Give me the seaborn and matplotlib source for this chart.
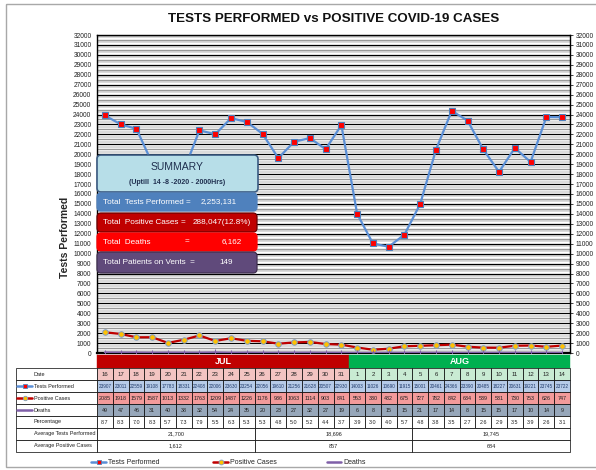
import numpy as np
import pandas as pd
import seaborn as sns
import matplotlib
matplotlib.use("Agg")
import matplotlib.pyplot as plt
from matplotlib import transforms
from matplotlib.patches import Rectangle, FancyBboxPatch
from matplotlib.lines import Line2D

# ---------------- data ----------------
dates = [16, 17, 18, 19, 20, 21, 22, 23, 24, 25, 26, 27, 28, 29, 30, 31,
         1, 2, 3, 4, 5, 6, 7, 8, 9, 10, 11, 12, 13, 14]
months = ["JUL", "AUG"]
month_days = [16, 14]
tests = [23907, 23011, 22559, 19108, 17783, 18331, 22408, 22006, 23630, 23254,
         22056, 19610, 21256, 21628, 20507, 22930, 14003, 11026, 10690, 11915,
         15001, 20461, 24366, 23390, 20485, 18227, 20631, 19221, 23745, 23722]
positive = [2085, 1918, 1579, 1587, 1013, 1332, 1763, 1209, 1487, 1226,
            1176, 936, 1063, 1114, 903, 841, 553, 330, 432, 675,
            727, 782, 842, 634, 539, 531, 730, 753, 626, 747]
deaths = [49, 47, 46, 31, 40, 38, 32, 54, 24, 35, 20, 23, 27, 32, 27, 19,
          6, 8, 15, 15, 21, 17, 14, 8, 15, 15, 17, 10, 14, 9]
percentage = [8.7, 8.3, 7.0, 8.3, 5.7, 7.3, 7.9, 5.5, 6.3, 5.3, 5.3, 4.8, 5.0, 5.2, 4.4, 3.7,
              3.9, 3.0, 4.0, 5.7, 4.8, 3.8, 3.5, 2.7, 2.6, 2.9, 3.5, 3.9, 2.6, 3.1]
avg_group_sizes = [10, 10, 10]
avg_tests = ["21,700", "18,696", "19,745"]
avg_positive = ["1,612", "857", "684"]
row_labels = ["Date", "Tests Performed", "Positive Cases", "Deaths", "Percentage",
              "Average Tests Performed", "Average Positive Cases"]
summary_title = ["SUMMARY", "(Uptill  14 -8 -2020 - 2000Hrs)"]
summary_labels = ["Total  Tests Performed =", "Total  Positive Cases", "Total  Deaths",
                  "Total Patients on Vents  ="]
summary_values = ["2,253,131", "288,047(12.8%)", "6,162", "149"]
y_ticks = list(range(0, 33000, 1000))

# ---------------- style ----------------
sns.set_theme(style="white")
plt.rcParams["font.family"] = ["Liberation Sans", "DejaVu Sans"]

W, H = 596, 470
fig = plt.figure(figsize=(W / 100, H / 100), dpi=100)
fig.patch.set_facecolor("white")

L, R, T, B = 97, 570, 35, 353
ax = fig.add_axes([L / W, 1 - B / H, (R - L) / W, (B - T) / H])

df = pd.DataFrame({"idx": np.arange(len(dates)), "tests": tests,
                   "positive": positive, "deaths": deaths})

C_TEST = "#5b8fd6"
C_POS = "#c00000"
C_DEATH = "#7f5fa8"

# background stripes / grid
for base in range(0, 32000, 1000):
    ax.axhline(base + 250, color="#d4d4d4", lw=1.2, zorder=0)
    ax.axhline(base + 500, color="#9a9a9a", lw=1.0, zorder=0)
    ax.axhline(base + 750, color="#d4d4d4", lw=1.2, zorder=0)
for v in y_ticks[1:]:
    ax.axhline(v, color="black", lw=0.9, zorder=1)

sns.lineplot(data=df, x="idx", y="tests", ax=ax, color=C_TEST, lw=1.6,
             marker="s", markersize=4.2, markerfacecolor="red",
             markeredgecolor="#4f81bd", markeredgewidth=0.8, zorder=5)
sns.lineplot(data=df, x="idx", y="positive", ax=ax, color=C_POS, lw=1.6,
             marker="o", markersize=4, markerfacecolor="#ffc000",
             markeredgecolor="#7f9fc8", markeredgewidth=0.7, zorder=5)
sns.lineplot(data=df, x="idx", y="deaths", ax=ax, color=C_DEATH, lw=1.6,
             marker="|", markersize=4, markeredgecolor=C_DEATH, zorder=6)

ax.set_xlim(-0.5, len(dates) - 0.5)
ax.set_ylim(0, 32000)
ax.set_xticks([])
ax.set_yticks(y_ticks)
ax.set_yticklabels([str(v) for v in y_ticks])
ax.set_xlabel("")
ax.set_ylabel("")
ax.tick_params(axis="y", labelsize=4.8, left=False, right=True, labelright=True,
               length=2, width=0.6, pad=2, colors="#222222")
for s in ax.spines.values():
    s.set_color("black")
    s.set_linewidth(1.0)
ax.spines["bottom"].set_linewidth(1.6)

# ---------------- table (under plot, in data x coords) ----------------
trans = transforms.blended_transform_factory(ax.transData, ax.transAxes)
def ya(py):
    return (B - py) / (B - T)

rows_px = [(355, 368), (368, 380), (380, 392), (392, 404), (404, 416),
           (416, 428), (428, 440), (440, 452)]

def cell(x0, x1, r, fc, txt, fs=4.2, color="#222222", weight="normal", ec="black", lw=0.5):
    y0, y1 = rows_px[r]
    ax.add_patch(Rectangle((x0, ya(y1)), x1 - x0, ya(y0) - ya(y1), transform=trans,
                           clip_on=False, fc=fc, ec=ec, lw=lw, zorder=3))
    ax.text((x0 + x1) / 2, ya((y0 + y1) / 2), txt, transform=trans, ha="center",
            va="center", fontsize=fs, color=color, weight=weight, clip_on=False, zorder=4)

start = 0
for m, n, c in zip(months, month_days, ["#c00000", "#00b050"]):
    cell(start - 0.5, start + n - 0.5, 0, c, m, fs=6.5, color="white", weight="bold",
         ec=c, lw=0.3)
    start += n

n_jul = month_days[0]
for i in range(len(dates)):
    x0, x1 = i - 0.5, i + 0.5
    cell(x0, x1, 1, "#f3c4c2" if i < n_jul else "#c9ebd3", str(dates[i]), fs=4.4)
    cell(x0, x1, 2, "#b6cbe8", str(tests[i]), fs=3.3, color="#1f3a6a")
    cell(x0, x1, 3, "#f39a9a", str(positive[i]), fs=3.9)
    cell(x0, x1, 4, "#97a7ba", str(deaths[i]), fs=3.9)
    cell(x0, x1, 5, "white", f"{percentage[i]:.1f}", fs=3.9)

start = 0
for n, at, ap in zip(avg_group_sizes, avg_tests, avg_positive):
    cell(start - 0.5, start + n - 0.5, 6, "white", at, fs=4.0)
    cell(start - 0.5, start + n - 0.5, 7, "white", ap, fs=4.0)
    start += n

# ---------------- overlay (pixel coords) ----------------
ov = fig.add_axes([0, 0, 1, 1])
ov.set_xlim(0, W)
ov.set_ylim(H, 0)
ov.axis("off")
ov.set_zorder(10)

ov.add_patch(Rectangle((6, 4), W, H - 7, fill=False, ec="#a8a8a8", lw=1.0))

ov.text(334, 19, "TESTS PERFORMED vs POSITIVE COVID-19 CASES", ha="center", va="center",
        fontsize=9.6, weight="bold", color="#111111")

ov.text(65, 237, "Tests Performed", rotation=90, ha="center", va="center",
        fontsize=7.5, weight="bold")

for r in range(1, 8):
    y0, y1 = rows_px[r]
    ov.add_patch(Rectangle((16, y0), L - 16, y1 - y0, fc="white", ec="black", lw=0.5))
    ov.text(34, (y0 + y1) / 2, row_labels[r - 1], ha="left", va="center",
            fontsize=4.0, color="#222222")

def icon(x0, x1, y, color, marker, mfc, mec, ms):
    ov.add_line(Line2D([x0, x1], [y, y], color=color, lw=1.8))
    if marker:
        ov.add_line(Line2D([(x0 + x1) / 2], [y], marker=marker, ms=ms, mfc=mfc,
                           mec=mec, mew=0.6, lw=0))

icon(17, 32, 386, C_TEST, "s", "red", "#4f81bd", 3.2)
icon(17, 32, 398, C_POS, "o", "#ffc000", "#7f9fc8", 3.2)
icon(17, 32, 410, C_DEATH, None, None, None, 0)

icon(91, 106, 462, C_TEST, "s", "red", "#4f81bd", 3.5)
ov.text(108, 462, "Tests Performed", ha="left", va="center", fontsize=5.0)
icon(213, 228, 462, C_POS, "o", "#ffc000", "#7f9fc8", 3.5)
ov.text(230, 462, "Positive Cases", ha="left", va="center", fontsize=5.0)
icon(327, 341, 462, C_DEATH, None, None, None, 0)
ov.text(343, 462, "Deaths", ha="left", va="center", fontsize=5.0)

def rbox(x0, y0, x1, y1, fc, ec, lw=1.0):
    ov.add_patch(FancyBboxPatch((x0, y0), x1 - x0, y1 - y0,
                                boxstyle="round,pad=0,rounding_size=4",
                                fc=fc, ec=ec, lw=lw, zorder=2))

rbox(97, 155, 258, 192, "#b7dee8", "#3b5b82", 1.2)
ov.text(177, 167, summary_title[0], ha="center", va="center", fontsize=7.5,
        color="#1f2f4f", zorder=3)
ov.text(177, 182, summary_title[1], ha="center", va="center", fontsize=5.0,
        color="#1f2f4f", weight="bold", zorder=3)

boxes = [(193, 211, "#4f81bd", "#4f81bd"),
         (213, 232, "#c00000", "#6a0000"),
         (233, 251, "#ff0000", "#ff0000"),
         (252, 273, "#604a7b", "#403050")]
val_x = [237, 251, 242, 233]
eq_x = [None, 183, 187, None]
FS = 5.9
for (y0, y1, fc, ec), lab, val, vx, ex in zip(boxes, summary_labels, summary_values, val_x, eq_x):
    rbox(97, y0, 257, y1, fc, ec, 0.9)
    yc = (y0 + y1) / 2
    ov.text(103, yc, lab, ha="left", va="center", fontsize=FS, color="white", zorder=3)
    ov.text(vx, yc, val, ha="right", va="center", fontsize=FS, color="white", zorder=3)
    if ex is not None:
        ov.text(ex, yc, "=", ha="center", va="center", fontsize=FS, color="white", zorder=3)

fig.savefig("out.png", dpi=100)
